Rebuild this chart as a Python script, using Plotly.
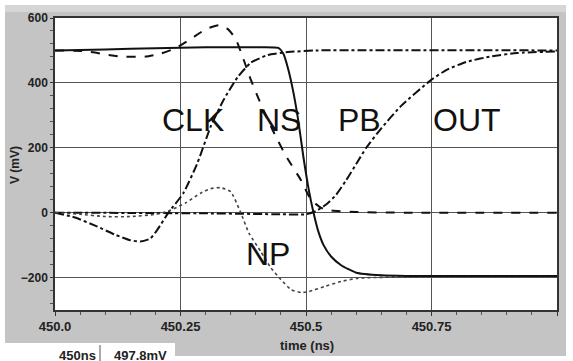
import plotly.graph_objects as go

# ---- data (time in ns, voltage in mV) ----
ns_t = [450.0, 450.1, 450.2, 450.3, 450.4, 450.445, 450.455, 450.465, 450.475, 450.485,
        450.495, 450.505, 450.515, 450.525, 450.535, 450.55, 450.57, 450.6, 450.65, 450.7, 451.0]
ns_v = [500, 503, 507, 510, 510, 508, 490, 440, 370, 280,
        170, 75, 0, -60, -100, -135, -162, -185, -193, -195, -195]

clk_dash_t = [450.0, 450.06, 450.1, 450.13, 450.18, 450.21, 450.24, 450.27, 450.3, 450.326,
              450.345, 450.36, 450.375, 450.39, 450.41, 450.435, 450.46, 450.49, 450.51, 450.53,
              450.55, 450.6, 450.7, 451.0]
clk_dash_v = [500, 498, 488, 481, 481, 490, 507, 535, 565, 578,
              565, 535, 475, 410, 335, 250, 175, 100, 40, 15,
              7, 2, 0, 0]

pb_t = [450.0, 450.04, 450.08, 450.12, 450.15, 450.17, 450.19, 450.205, 450.226, 450.256,
        450.284, 450.31, 450.336, 450.364, 450.39, 450.424, 450.464, 450.52, 451.0]
pb_v = [0, -15, -40, -68, -85, -89, -80, -50, 0, 61,
        154, 265, 348, 418, 462, 486, 495, 500, 500]

out_t = [450.0, 450.3, 450.45, 450.5, 450.52, 450.54, 450.56, 450.58, 450.6, 450.62,
         450.65, 450.69, 450.75, 450.78, 450.82, 450.87, 450.92, 451.0]
out_v = [0, -2, -5, -5, 5, 25, 55, 100, 150, 200,
         260, 330, 410, 440, 465, 482, 492, 497]

np_t = [450.0, 450.05, 450.1, 450.15, 450.2, 450.226, 450.26, 450.29, 450.31, 450.33,
        450.35, 450.37, 450.386, 450.41, 450.43, 450.45, 450.47, 450.49, 450.506, 450.536,
        450.57, 450.604, 450.7, 451.0]
np_v = [0, -5, -12, -12, -5, 5, 30, 60, 74, 77,
        65, 0, -62, -120, -170, -206, -237, -246, -243, -228,
        -212, -202, -198, -197]

x_ticks = [450.0, 450.25, 450.5, 450.75, 451.0]
x_tick_text = ["450.0", "450.25", "450.5", "450.75", "451.0"]
y_ticks = [600, 400, 200, 0, -200]

labels = ["CLK", "NS", "PB", "OUT", "NP"]
label_x = [450.274, 450.446, 450.606, 450.82, 450.424]
label_y = [286, 286, 286, 286, -126]

# ---- figure ----
W, H = 573, 361
ML, MR, MT, MB = 55, 16, 18, 51
PW, PH = W - ML - MR, H - MT - MB


def px(xp):
    return (xp - ML) / PW


def py(yp):
    return (H - MB - yp) / PH


fig = go.Figure()
fig.add_trace(go.Scatter(x=pb_t, y=pb_v, mode="lines",
                         line=dict(color="#111", width=2, dash="dashdot", shape="spline", smoothing=0.5)))
fig.add_trace(go.Scatter(x=out_t, y=out_v, mode="lines",
                         line=dict(color="#111", width=2, dash="dashdot", shape="spline", smoothing=0.5)))
fig.add_trace(go.Scatter(x=np_t, y=np_v, mode="lines",
                         line=dict(color="#444", width=1.6, dash="dot", shape="spline", smoothing=0.5)))
fig.add_trace(go.Scatter(x=clk_dash_t, y=clk_dash_v, mode="lines",
                         line=dict(color="#111", width=2, dash="dash", shape="spline", smoothing=0.5)))
fig.add_trace(go.Scatter(x=ns_t, y=ns_v, mode="lines",
                         line=dict(color="#111", width=2, shape="spline", smoothing=0.5)))

for t, xv, yv in zip(labels, label_x, label_y):
    fig.add_annotation(x=xv, y=yv, text=t, showarrow=False,
                       font=dict(family="Liberation Sans Narrow, Arial Narrow, Liberation Sans, Arial",
                                 size=32, color="#111"))

# axis titles
fig.add_annotation(xref="paper", yref="paper", x=px(15), y=py(165), text="V (mV)",
                   xanchor="center", yanchor="middle",
                   textangle=-90, showarrow=False,
                   font=dict(family="Liberation Sans, Arial", size=12, color="#222", weight="bold"))
fig.add_annotation(xref="paper", yref="paper", x=px(307), y=py(345), text="time (ns)",
                   xanchor="center", yanchor="middle", showarrow=False,
                   font=dict(family="Liberation Sans, Arial", size=13, color="#222", weight="bold"))

# white margins / status box
white_rects = [
    (0, 0, W, 5), (0, 0, 5, H), (566, 0, W, H), (0, 356, W, H), (5, 343, 175, H),
]
shapes = []
for x0, y0, x1, y1 in white_rects:
    shapes.append(dict(type="rect", xref="paper", yref="paper", x0=px(x0), x1=px(x1),
                       y0=py(y1), y1=py(y0), fillcolor="white", line=dict(width=0), layer="below"))
# lighter top band
shapes.append(dict(type="rect", xref="paper", yref="paper", x0=px(5), x1=px(566),
                   y0=py(12), y1=py(5), fillcolor="#d6d6d6", line=dict(width=0), layer="below"))
# divider in status box
shapes.append(dict(type="line", xref="paper", yref="paper", x0=px(100), x1=px(100),
                   y0=py(361), y1=py(345), line=dict(color="#555", width=1)))
fig.update_layout(shapes=shapes)

fig.add_annotation(xref="paper", yref="paper", x=px(77), y=py(346), xanchor="center", yanchor="top",
                   text="450ns", showarrow=False,
                   font=dict(family="Liberation Sans, Arial", size=13, color="#222", weight="bold"))
fig.add_annotation(xref="paper", yref="paper", x=px(140), y=py(346), xanchor="center", yanchor="top",
                   text="497.8mV", showarrow=False,
                   font=dict(family="Liberation Sans, Arial", size=13, color="#222", weight="bold"))

fig.update_xaxes(range=[450.0, 451.0], tickvals=x_ticks, ticktext=x_tick_text,
                 showgrid=True, gridcolor="#555", gridwidth=1,
                 showline=True, linecolor="#333", linewidth=1.5, mirror=True,
                 ticks="outside", ticklen=4, tickcolor="#333",
                 minor=dict(dtick=0.05, ticks="outside", ticklen=3, tickcolor="#555", showgrid=False),
                 zeroline=False,
                 tickfont=dict(family="Liberation Sans, Arial", size=13, color="#222", weight="bold"))
fig.update_yaxes(range=[-300, 600], tickvals=y_ticks,
                 showgrid=True, gridcolor="#555", gridwidth=1,
                 showline=True, linecolor="#333", linewidth=1.5, mirror=True,
                 ticks="outside", ticklen=3, tickcolor="#333",
                 minor=dict(dtick=40, ticks="outside", ticklen=3, tickcolor="#555", showgrid=False),
                 zeroline=False,
                 tickfont=dict(family="Liberation Sans, Arial", size=12, color="#222", weight="bold"))

fig.update_layout(width=W, height=H, margin=dict(l=ML, r=MR, t=MT, b=MB, autoexpand=False),
                  paper_bgcolor="#c4c4c4", plot_bgcolor="white", showlegend=False)

fig.write_html("out.html", config={"displayModeBar": False},
               post_script="document.body.style.margin='0';document.body.style.overflow='hidden';")
